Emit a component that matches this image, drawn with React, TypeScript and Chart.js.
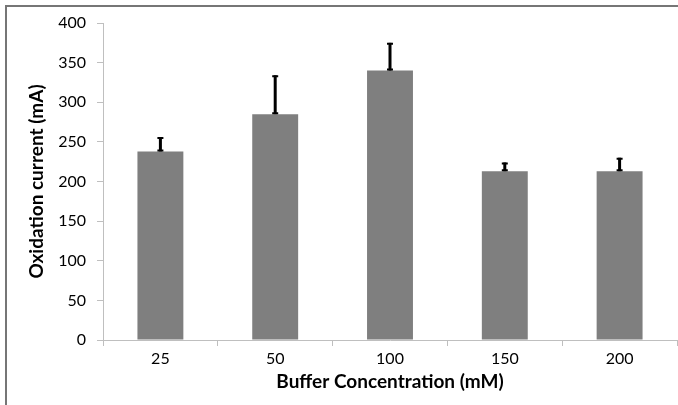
import React, { useEffect, useRef } from "react";
import { Chart, registerables } from "chart.js";

Chart.register(...registerables);

const categories = ["25", "50", "100", "150", "200"];
const currentValues = [238, 285, 340, 213, 213];
const errorValues = [18, 49, 35, 11, 17];
const yTickMax = 400;
const yTickStep = 50;

const errorBarPlugin = {
  id: "errorBars",
  afterDatasetsDraw(chart: any) {
    const meta = chart.getDatasetMeta(0);
    const yScale = chart.scales.y;
    const ctx = chart.ctx;
    ctx.save();
    ctx.strokeStyle = "#000000";
    meta.data.forEach((bar: any, i: number) => {
      const x = bar.x;
      const yBase = yScale.getPixelForValue(currentValues[i]);
      const yTop = yScale.getPixelForValue(currentValues[i] + errorValues[i]);
      ctx.lineWidth = 3;
      ctx.beginPath();
      ctx.moveTo(x, yBase);
      ctx.lineTo(x, yTop);
      ctx.stroke();
      ctx.lineWidth = 2;
      ctx.beginPath();
      ctx.moveTo(x - 3, yTop + 1);
      ctx.lineTo(x + 3, yTop + 1);
      ctx.moveTo(x - 3, yBase - 1);
      ctx.lineTo(x + 3, yBase - 1);
      ctx.stroke();
    });
    ctx.restore();
  },
};

export default function App() {
  const canvasRef = useRef<HTMLCanvasElement | null>(null);

  useEffect(() => {
    if (!canvasRef.current) return;
    const fontFamily = "Lato, 'Open Sans', sans-serif";
    const chart = new Chart(canvasRef.current, {
      type: "bar",
      data: {
        labels: categories,
        datasets: [
          {
            data: currentValues,
            backgroundColor: "#7f7f7f",
            borderWidth: 0,
            categoryPercentage: 1,
            barPercentage: 0.4,
          },
        ],
      },
      options: {
        responsive: false,
        animation: false,
        devicePixelRatio: 1,
        layout: { padding: { left: 18, top: 23, right: 1, bottom: 0 } },
        plugins: {
          legend: { display: false },
          tooltip: { enabled: false },
        },
        scales: {
          x: {
            afterFit(scale: any) {
              scale.height = 65;
            },
            grid: {
              display: true,
              drawOnChartArea: false,
              drawTicks: true,
              tickLength: 6,
              color: "#bfbfbf",
              offset: true,
            },
            border: { display: true, color: "#bfbfbf", width: 1 },
            ticks: {
              color: "#000000",
              font: { family: fontFamily, size: 16 },
              padding: 3,
            },
            title: {
              display: true,
              text: "Buffer Concentration (mM)",
              color: "#000000",
              font: { family: fontFamily, size: 19, weight: "bold" },
              padding: { top: 0, bottom: 12 },
            },
          },
          y: {
            min: 0,
            max: yTickMax,
            afterFit(scale: any) {
              scale.width = 85;
            },
            grid: {
              display: true,
              drawOnChartArea: false,
              drawTicks: true,
              tickLength: 6,
              color: "#bfbfbf",
            },
            border: { display: true, color: "#bfbfbf", width: 1 },
            ticks: {
              stepSize: yTickStep,
              color: "#000000",
              font: { family: fontFamily, size: 16 },
              padding: 11,
            },
            title: {
              display: true,
              text: "Oxidation current (mA)",
              color: "#000000",
              font: { family: fontFamily, size: 19, weight: "bold" },
              padding: { top: 7, bottom: 0 },
            },
          },
        },
      },
      plugins: [errorBarPlugin],
    });
    return () => chart.destroy();
  }, []);

  return (
    <div
      style={{
        position: "fixed",
        left: 0,
        top: 0,
        width: 678,
        height: 405,
        background: "#ffffff",
        overflow: "hidden",
      }}
    >
      <div
        style={{
          position: "absolute",
          left: 5,
          top: 5,
          width: 700,
          height: 420,
          borderTop: "2px solid #767676",
          borderLeft: "2px solid #767676",
          pointerEvents: "none",
        }}
      />
      <canvas
        ref={canvasRef}
        width={678}
        height={405}
        style={{ position: "absolute", left: 0, top: 0, width: 678, height: 405 }}
      />
    </div>
  );
}
